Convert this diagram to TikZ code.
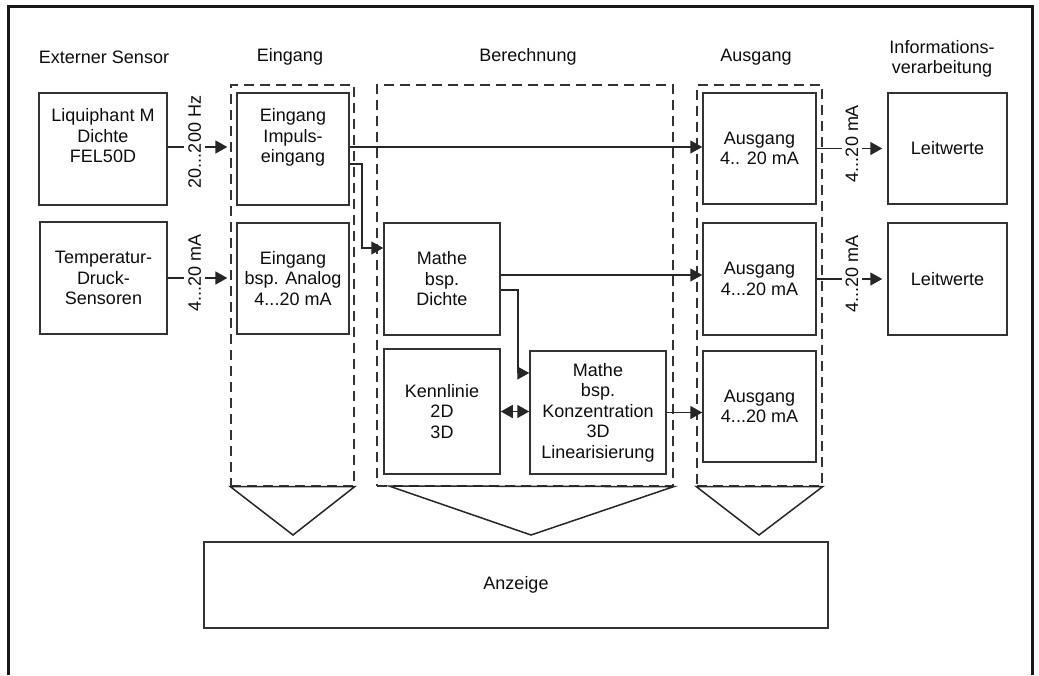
\documentclass[tikz,border=0pt]{standalone}
\usepackage{fontspec}
\setmainfont{Liberation Sans}
\usetikzlibrary{arrows.meta}

\begin{document}
\begin{tikzpicture}[
  x=1pt, y=-1pt,
  font=\fontsize{18}{20.5}\selectfont,
  box/.style={draw=black!80, line width=1.5pt, rectangle, align=center,
              inner sep=0pt, text=black!95},
  grp/.style={draw=black!80, line width=1.3pt, dash pattern=on 10pt off 6pt,
              rectangle, inner sep=0pt},
  arr/.style={-{Triangle[length=12pt,width=13pt]}, line width=1.5pt, black!85},
  darr/.style={{Triangle[length=12pt,width=13pt]}-{Triangle[length=12pt,width=13pt]},
               line width=1.5pt, black!85},
  lbl/.style={fill=white, inner sep=4pt, rotate=90, text=black!95},
  hdr/.style={align=center, text=black!95},
  funnel/.style={draw=black!85, line width=1.5pt, line join=miter},
]

  \useasboundingbox (0,0) rectangle (1039,675);

  % --- Frame (open at the bottom) ---
  \draw[line width=3pt, black!90] (8,675) -- (8,6) -- (1032,6) -- (1032,675);

  % --- Column headers ---
  \node[hdr] (hSens) at (104,57) {Externer Sensor};
  \node[hdr] (hEin)  at (290,57) {Eingang};
  \node[hdr] (hBer)  at (528,57) {Berechnung};
  \node[hdr] (hAus)  at (756,57) {Ausgang};
  \node[hdr] (hInf)  at (942,59) {Informations-\\verarbeitung};

  % --- Dashed groups ---
  \node[grp, minimum width=123pt, minimum height=401pt] (grpE) at (292.5,285.5) {};
  \node[grp, minimum width=296pt, minimum height=401pt] (grpB) at (525,285.5) {};
  \node[grp, minimum width=125pt, minimum height=401pt] (grpA) at (759.5,285.5) {};

  % --- External sensors ---
  \node[box, minimum width=128pt, minimum height=112pt] (sensA) at (103,149)
    {Liquiphant M\\Dichte\\FEL50D\\[6pt]};
  \node[box, minimum width=127pt, minimum height=112pt] (sensB) at (103.5,278)
    {Temperatur-\\Druck-\\Sensoren};

  % --- Eingang ---
  \node[box, minimum width=112pt, minimum height=112pt] (einA) at (293,149)
    {Eingang\\Impuls-\\eingang\\[6pt]};
  \node[box, minimum width=112pt, minimum height=111pt] (einB) at (293,278.5)
    {Eingang\\bsp. Analog\\4...20 mA};

  % --- Berechnung ---
  \node[box, minimum width=116pt, minimum height=112pt] (mathA) at (442,279)
    {Mathe\\bsp.\\Dichte};
  \node[box, minimum width=116pt, minimum height=125pt] (kenn) at (442,411.5)
    {Kennlinie\\2D\\3D};
  \node[box, minimum width=136pt, minimum height=123pt] (mathB) at (598,412.5)
    {Mathe\\bsp.\\Konzentration\\3D\\Linearisierung};

  % --- Ausgang ---
  \node[box, minimum width=113pt, minimum height=111pt] (ausA) at (759.5,148.5)
    {Ausgang\\4.. 20 mA};
  \node[box, minimum width=113pt, minimum height=112pt] (ausB) at (759.5,279)
    {Ausgang\\4...20 mA};
  \node[box, minimum width=113pt, minimum height=111pt] (ausC) at (759.5,406.5)
    {Ausgang\\4...20 mA};

  % --- Informationsverarbeitung ---
  \node[box, minimum width=119pt, minimum height=111pt] (leitA) at (947.5,148.5)
    {Leitwerte};
  \node[box, minimum width=119pt, minimum height=112pt] (leitB) at (947.5,279)
    {Leitwerte};

  % --- Anzeige ---
  \node[box, minimum width=624pt, minimum height=86pt] (anz) at (516,585) {Anzeige};

  % --- Funnels into Anzeige ---
  \draw[funnel] (grpE.south west) -- (293,535) -- (grpE.south east) -- cycle;
  \draw[funnel] (389,486) -- (531,535) -- (grpB.south east) -- cycle;
  \draw[funnel] (grpA.south west) -- (759,535) -- (grpA.south east) -- cycle;

  % --- Signals in ---
  \draw[arr, shorten >=3pt] ([yshift=2pt]sensA.east) -- ([yshift=2pt]sensA.east -| grpE.west)
    node[lbl, pos=0.43, xshift=5pt] {20...200 Hz};
  \draw[arr, shorten >=3pt] (sensB.east) -- (sensB.east -| grpE.west)
    node[lbl, pos=0.43, xshift=5pt] {4...20 mA};

  % --- Internal paths ---
  \draw[arr] ([yshift=2pt]einA.east) -- ([yshift=2pt]einA.east -| ausA.west);
  \draw[arr] ([yshift=-15pt]einA.east) -- ++(12,0) |- ([yshift=31pt]mathA.west);
  \draw[arr] ([yshift=4pt]mathA.east) -- ([yshift=4pt]mathA.east -| ausB.west);
  \draw[arr] ([yshift=-11pt]mathA.east) -- ++(17,0) |- ([yshift=39.5pt]mathB.west);
  \draw[darr] (kenn.east) -- (kenn.east -| mathB.west);
  \draw[arr] (mathB.east) -- (mathB.east -| ausC.west);

  % --- Signals out ---
  \draw[arr, shorten >=5pt] (ausA.east) -- (leitA.west)
    node[lbl, midway, xshift=5pt] {4...20 mA};
  \draw[arr, shorten >=5pt] (ausB.east) -- (leitB.west)
    node[lbl, midway, xshift=5pt] {4...20 mA};

\end{tikzpicture}
\end{document}
